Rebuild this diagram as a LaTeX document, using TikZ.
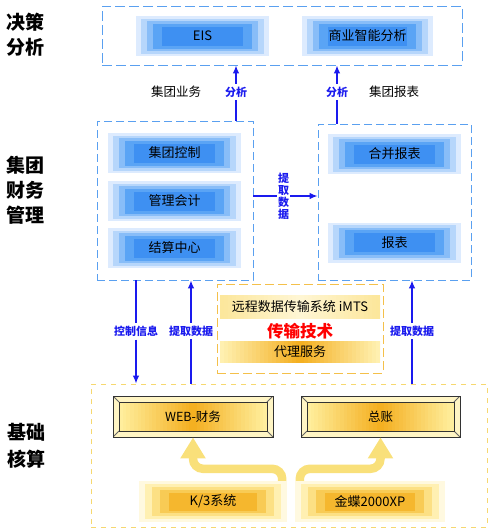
\documentclass[tikz,border=0pt]{standalone}
\usepackage{fontspec}
\setmainfont{Noto Sans CJK SC}
\usetikzlibrary{arrows.meta,calc}

\definecolor{zoneblue}{HTML}{5AA0F0}
\definecolor{flowblue}{HTML}{1A1AEE}
\definecolor{xferorange}{HTML}{F4C04A}
\definecolor{baseyellow}{HTML}{F6D870}
\definecolor{bglA}{HTML}{DDEBFE}
\definecolor{bglB}{HTML}{B6D6FB}
\definecolor{bglC}{HTML}{88BDF8}
\definecolor{bglD}{HTML}{5AA4F5}
\definecolor{bglE}{HTML}{3E90F2}
\definecolor{sglA}{HTML}{FFF9E0}
\definecolor{sglB}{HTML}{FFF0B2}
\definecolor{sglC}{HTML}{FCE084}
\definecolor{sglD}{HTML}{F8CB55}
\definecolor{sglE}{HTML}{F5B72E}
\definecolor{bevA}{HTML}{FFF5C4}
\definecolor{bevB}{HTML}{FFF0A0}
\definecolor{bevC}{HTML}{F4AE1E}
\definecolor{bandA}{HTML}{FCE69A}
\definecolor{bandB}{HTML}{FFF6D4}
\definecolor{bandD}{HTML}{FFF2B4}
\definecolor{bandC}{HTML}{F4AE1E}
\definecolor{sunline}{HTML}{F9E07A}

% left-to-right strips: inset, edge colour, middle colour
\newcommand{\hstrips}[3]{%
  \coordinate (hsA) at ([shift={(#1,#1)}]path picture bounding box.south west);
  \coordinate (hsB) at ([shift={(-#1,#1)}]path picture bounding box.south east);
  \coordinate (hsC) at ([shift={(#1,-#1)}]path picture bounding box.north west);
  \coordinate (hsD) at ([shift={(-#1,-#1)}]path picture bounding box.north east);
  \foreach \i in {0,...,39}{
    \pgfmathsetmacro\hsmix{100*(1-abs((2*\i+1)/40-1))}
    \pgfmathsetmacro\hsbeg{\i/40}
    \pgfmathsetmacro\hsend{(\i+1.2)/40}
    \fill[#3!\hsmix!#2] ($(hsA)!\hsbeg!(hsB)$) rectangle ($(hsC)!\hsend!(hsD)$);
  }}

\tikzstyle{zone}=[draw=zoneblue, dash pattern=on 8pt off 4pt, line width=0.9pt, inner sep=0pt]
\tikzstyle{glow}=[inner sep=0pt, minimum width=133pt, minimum height=40pt,
  font=\fontsize{13}{15}\selectfont]
\tikzstyle{blueglow}=[glow, fill=bglA, path picture={
  \foreach \dx/\dy/\c in {5/2.5/bglB,11/5/bglC,17/7.5/bglD,26/10.5/bglE}
    \fill[\c] ([shift={(\dx pt,\dy pt)}]path picture bounding box.south west)
      rectangle ([shift={(-\dx pt,-\dy pt)}]path picture bounding box.north east);}]
\tikzstyle{sunglow}=[glow, fill=sglA, path picture={
  \foreach \dx/\dy/\c in {6/3/sglB,13/6/sglC,21/9/sglD,30/11.5/sglE}
    \fill[\c] ([shift={(\dx pt,\dy pt)}]path picture bounding box.south west)
      rectangle ([shift={(-\dx pt,-\dy pt)}]path picture bounding box.north east);}]
\tikzstyle{bevel}=[draw=black!80, line width=0.8pt, inner sep=0pt, fill=bevA,
  minimum width=160pt, minimum height=41pt,
  path picture={
  \draw[black!60] (path picture bounding box.south west) -- ++(6pt,6pt)
    (path picture bounding box.north east) -- ++(-6pt,-6pt)
    (path picture bounding box.north west) -- ++(6pt,-6pt)
    (path picture bounding box.south east) -- ++(-6pt,6pt);}]
\tikzstyle{bevelin}=[draw=black!80, line width=0.8pt, inner sep=0pt,
  minimum width=148pt, minimum height=29pt, font=\fontsize{12.5}{14}\selectfont,
  path picture={\hstrips{0pt}{bevB}{bevC}}]
\tikzstyle{band}=[inner sep=0pt, minimum width=160pt, font=\fontsize{13}{15}\selectfont]
\tikzstyle{side}=[align=center, font=\fontsize{19}{25}\selectfont\bfseries]
\tikzstyle{note}=[font=\fontsize{12.5}{14}\selectfont]
\tikzstyle{tag}=[text=flowblue, inner sep=3pt, align=center,
  font=\fontsize{11}{13}\selectfont\bfseries]
\tikzstyle{flow}=[draw=flowblue, line width=1.2pt]
\tikzstyle{flowto}=[flow, -{Latex[length=8pt,width=6.5pt]}]
\tikzstyle{sunarrow}=[draw=sunline, line width=8.5pt, rounded corners=10pt,
  -{Triangle[length=21pt,width=24pt]}]

\begin{document}
\begin{tikzpicture}[x=1pt,y=-1pt]
\useasboundingbox (0,0) rectangle (491,531);
% Decision layer
\draw (282,35.5) node[zone, dash pattern=on 10pt off 4pt, minimum width=360pt, minimum height=59pt](dec){};
\draw (202.5,36) node[blueglow](eis){EIS};
\draw (367.5,36) node[blueglow, minimum width=131pt](bi){商业智能分析};
\draw (25,35) node[side](sideA){决策\\分析};
%
% Group finance layer
\draw (175,200.5) node[zone, minimum width=156pt, minimum height=159pt](grp){};
\draw (394.5,202) node[zone, minimum width=153pt, minimum height=156pt](rpt){};
\draw (174.5,153) node[blueglow](ctl){集团控制};
\draw (174.5,201) node[blueglow](mgt){管理会计};
\draw (174.5,248) node[blueglow](stl){结算中心};
\draw (394.5,154) node[blueglow](cons){合并报表};
\draw (394.5,242.5) node[blueglow](rep){报表};
\draw (25,190) node[side](sideB){集团\\财务\\管理};
\draw (176,92) node[note](noteA){集团业务};
\draw (394,92) node[note](noteB){集团报表};
%
\draw (236,92) node[tag](tagA){分析};
\draw[flow] (grp.north -| tagA) -- (tagA.south);
\draw[flowto] (tagA.north) -- (dec.south -| tagA);
\draw (337,92) node[tag](tagB){分析};
\draw[flow] (rpt.north -| tagB) -- (tagB.south);
\draw[flowto] (tagB.north) -- (dec.south -| tagB);
\draw (283.5,196) node[tag, inner sep=1pt, font=\fontsize{11}{12}\selectfont\bfseries](tagX){提\\取\\数\\据};
\draw[flow] (grp.east |- tagX) -- (tagX.west);
\draw[flowto] (tagX.east) -- (rpt.west |- tagX);
%
% Transfer
\draw (300,328.5) node[zone, draw=xferorange, dash pattern=on 9pt off 4pt, minimum width=166pt, minimum height=89pt](xfer){};
\draw (300,307) node[band, minimum height=24pt, path picture={\hstrips{0pt}{bandA}{bandB}}](imts){远程数据传输系统 iMTS};
\draw (300,331) node[text=red, font=\fontsize{16.5}{18}\selectfont\bfseries](tech){传输技术};
\draw (300,352) node[band, minimum height=22pt, path picture={\hstrips{0pt}{bandD}{bandC}}](proxy){代理服务};
%
% Base accounting layer
\draw (289,455.5) node[zone, draw=baseyellow, dash pattern=on 5pt off 5pt, minimum width=396pt, minimum height=143pt](base){};
\draw (193,416.5) node[bevel](web){};
\draw (web.center) node[bevelin](webin){WEB-财务};
\draw (380.5,416.5) node[bevel, minimum width=159pt](gl){};
\draw (gl.center) node[bevelin, minimum width=147pt](glin){总账};
\draw (213,501.5) node[sunglow, minimum width=148pt, minimum height=41pt](kthree){K/3系统};
\draw (370,501.5) node[sunglow, minimum width=150pt, minimum height=41pt](kd){金蝶2000XP};
\draw (27,446) node[side, font=\fontsize{19}{27}\selectfont\bfseries](sideC){基础\\核算};
\draw[sunarrow] ([xshift=-5pt]kthree.north east) -- ++(0,-12) -| (web.south);
\draw[sunarrow] ([xshift=5pt]kd.north west) -- ++(0,-12) -| (gl.south);
%
\draw (136,331) node[tag](tagC){控制信息};
\draw[flow] (grp.south -| tagC) -- (tagC.north);
\draw[flowto] (tagC.south) -- (base.north -| tagC);
\draw (191,331) node[tag](tagD){提取数据};
\draw[flow] (base.north -| tagD) -- (tagD.south);
\draw[flowto] (tagD.north) -- (grp.south -| tagD);
\draw (412,331) node[tag](tagE){提取数据};
\draw[flow] (base.north -| tagE) -- (tagE.south);
\draw[flowto] (tagE.north) -- (rpt.south -| tagE);
\end{tikzpicture}
\end{document}
